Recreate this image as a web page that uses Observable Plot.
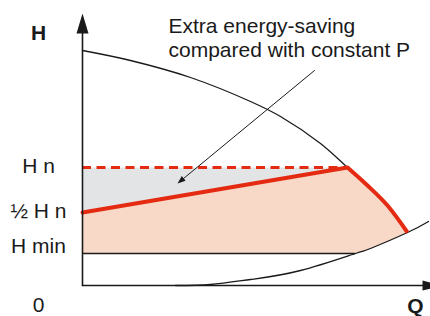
<!DOCTYPE html>
<html>
<head>
<meta charset="utf-8">
<script src="https://cdn.jsdelivr.net/npm/d3@7"></script>
<script src="https://cdn.jsdelivr.net/npm/@observablehq/plot@0.6"></script>
<style>
  html, body { margin: 0; padding: 0; background: #fff; }
  #chart svg { display: block; overflow: visible; }
</style>
</head>
<body>
<div id="chart"></div>
<script>
// ---- Data (schematic units: Q along flow axis, H along head axis) ----
const pumpQ = [0, 48, 108, 168, 198, 238, 265, 285, 305, 325];
const pumpH = [235, 225, 208, 184, 169, 142, 118, 100, 80, 53];

const systemQ = [93, 128, 168, 218, 273, 288, 325, 346];
const systemH = [0, 1, 6, 15, 32, 37, 53, 64];

const Qn = 265;      // nominal flow (duty point)
const Hn = 118;      // nominal head
const HhalfN = 73;   // ½ Hn level at Q = 0
const Hmin = 32;     // minimum head

const levelLabels = ["H n", "½ H n", "H min"];
const levelLabelH = [119, 74, 39];

const axisTitles = ["H", "Q"];
const axisTitleQ = [-44, 333];
const axisTitleH = [252, -21];

const originLabel = ["0"];
const originQ = [-44];
const originH = [-20];

const noteLines = ["Extra energy-saving", "compared with constant P"];
const noteLineH = [259, 235];
const noteQ = 86;
const noteFrom = [232, 215];
const noteTo = [95, 102];

const axisQMax = 340, axisHMax = 252, headLen = 20, headHalfY = 6, headHalfX = 5;

// ---- Derived tables ----
const pump = pumpQ.map((q, i) => ({Q: q, H: pumpH[i]}));
const system = systemQ.map((q, i) => ({Q: q, H: systemH[i]}));
const redCurve = pump.filter(d => d.Q >= Qn);
const qEnd = redCurve[redCurve.length - 1].Q;
const hminEnd = systemQ[systemH.indexOf(Hmin)];

const peach = [
  {Q: 0, H: Hmin}, {Q: 0, H: HhalfN}, {Q: Qn, H: Hn},
  ...redCurve.slice(1),
  ...system.filter(d => d.Q >= hminEnd && d.Q < qEnd).reverse()
];
const grey = [{Q: 0, H: Hn}, {Q: Qn, H: Hn}, {Q: 0, H: HhalfN}];
const redSolid = [{Q: 0, H: HhalfN}, {Q: Qn, H: Hn}];

// annotation arrow head
const dx = noteTo[0] - noteFrom[0], dy = noteTo[1] - noteFrom[1];
const L = Math.hypot(dx, dy), ux = dx / L, uy = dy / L;
const hl = 8, hw = 3;
const bx = noteTo[0] - ux * hl, by = noteTo[1] - uy * hl;
const noteHead = [
  {Q: noteTo[0], H: noteTo[1]},
  {Q: bx - uy * hw, H: by + ux * hw},
  {Q: bx + uy * hw, H: by - ux * hw}
];

const yAxis = [{Q: 0, H: 0}, {Q: 0, H: axisHMax}];
const xAxis = [{Q: 0, H: 0}, {Q: axisQMax, H: 0}];
const yHead = [{Q: -headHalfY, H: axisHMax}, {Q: headHalfY, H: axisHMax}, {Q: 0, H: axisHMax + headLen}];
const xHead = [{Q: axisQMax, H: -headHalfX}, {Q: axisQMax, H: headHalfX}, {Q: axisQMax + headLen, H: 0}];

const labels = levelLabels.map((t, i) => ({t, Q: -44, H: levelLabelH[i]}));
const titles = axisTitles.map((t, i) => ({t, Q: axisTitleQ[i], H: axisTitleH[i]}));
const origin = originLabel.map((t, i) => ({t, Q: originQ[i], H: originH[i]}));
const notes = noteLines.map((t, i) => ({t, Q: noteQ, H: noteLineH[i]}));

const ink = "#1a1a1a", red = "#e52a12";

const chart = Plot.plot({
  width: 430,
  height: 316,
  marginLeft: 82,
  marginRight: 0,
  marginTop: 13,
  marginBottom: 31,
  x: {domain: [0, 348], axis: null},
  y: {domain: [0, 272], axis: null},
  style: {fontFamily: "Liberation Sans, Arial, sans-serif", background: "white", overflow: "visible"},
  marks: [
    Plot.line(peach, {x: "Q", y: "H", fill: "#f8d9c8", stroke: "none"}),
    Plot.line(grey, {x: "Q", y: "H", fill: "#e3e4e6", stroke: "none"}),
    Plot.line(pump, {x: "Q", y: "H", stroke: ink, strokeWidth: 1.3, curve: "catmull-rom"}),
    Plot.line(system, {x: "Q", y: "H", stroke: ink, strokeWidth: 1.3, curve: "natural"}),
    Plot.ruleY([Hmin], {x1: 0, x2: hminEnd, stroke: ink, strokeWidth: 1.5}),
    Plot.ruleY([Hn], {x1: 0, x2: Qn, stroke: red, strokeWidth: 3, strokeDasharray: "9,5.5"}),
    Plot.line(redSolid, {x: "Q", y: "H", stroke: red, strokeWidth: 4, strokeLinecap: "round"}),
    Plot.line(redCurve, {x: "Q", y: "H", stroke: red, strokeWidth: 4, curve: "catmull-rom", strokeLinecap: "butt"}),
    Plot.line([{Q: noteFrom[0], H: noteFrom[1]}, {Q: bx, H: by}], {x: "Q", y: "H", stroke: ink, strokeWidth: 1}),
    Plot.line(noteHead, {x: "Q", y: "H", fill: ink, stroke: "none"}),
    Plot.line(yAxis, {x: "Q", y: "H", stroke: ink, strokeWidth: 1.6}),
    Plot.line(xAxis, {x: "Q", y: "H", stroke: ink, strokeWidth: 1.6}),
    Plot.line(yHead, {x: "Q", y: "H", fill: ink, stroke: "none"}),
    Plot.line(xHead, {x: "Q", y: "H", fill: ink, stroke: "none"}),
    Plot.text(labels, {x: "Q", y: "H", text: "t", fontSize: 21, fill: ink, textAnchor: "middle"}),
    Plot.text(titles, {x: "Q", y: "H", text: "t", fontSize: 21, fill: ink, textAnchor: "middle", fontWeight: "bold"}),
    Plot.text(origin, {x: "Q", y: "H", text: "t", fontSize: 21, fill: ink, textAnchor: "middle"}),
    Plot.text(notes, {x: "Q", y: "H", text: "t", fontSize: 21, fill: ink, textAnchor: "start"})
  ]
});
document.getElementById("chart").appendChild(chart);
</script>
</body>
</html>
